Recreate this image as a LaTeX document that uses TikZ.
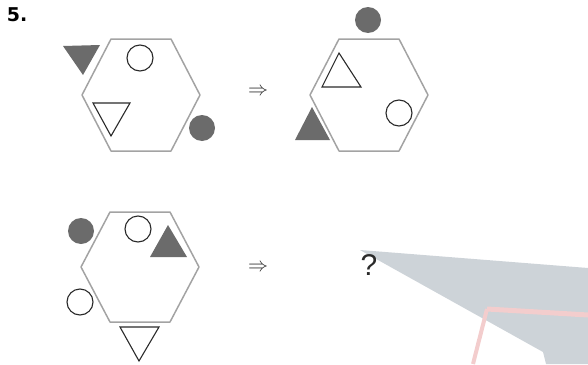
\documentclass[tikz,border=0pt]{standalone}
\usepackage{fontspec}
\setsansfont{Liberation Sans}
\newfontfamily\heavyfont{DejaVu Sans}
\definecolor{shade}{HTML}{6B6B6B}
\definecolor{hexgray}{HTML}{A3A3A3}
\definecolor{ink}{HTML}{2A2A2A}
\definecolor{wmgray}{HTML}{CDD3D8}
\definecolor{wmred}{HTML}{F3CDCD}
\tikzset{
	hexline/.style = {hexgray, line width = 1.5pt, line join = round},
	solid shape/.style = {fill = shade, draw = none},
	open shape/.style = {draw = ink, line width = 1.1pt, fill = white, line join = miter},
	implies/.style = {inner sep = 0pt, text = ink}
}
\begin{document}
\begin{tikzpicture}[x = 1pt, y = -1pt]
	\useasboundingbox (0,0) rectangle (588,364);
	% stain in the lower right corner
	\fill [wmgray] (360,250) -- (588,268) -- (588,364) -- (546,364) -- (543,352) -- cycle;
	\draw [wmred, line width = 5pt] (487,309) -- (588,315);
	\draw [wmred, line width = 4pt] (487,309) -- (473,364);
	\node (num) at (17,15) {\heavyfont\bfseries\fontsize{19}{19}\selectfont 5.};
	% first pair
	\draw [hexline, shift = {(141,95)}] (-59,0) -- (-30,-56) -- (30,-56) -- (59,0) -- (30,56) -- (-30,56) -- cycle;
	\draw [open shape] (140,58) circle (13);
	\fill [solid shape] (63,46) -- (100,45) -- (83,75) -- cycle;
	\draw [open shape] (93,103) -- (130,103) -- (111,136) -- cycle;
	\fill [solid shape] (202,128) circle (13);
	\node [implies] (arrA) at (258,92) {\scalebox{2}{$\Rightarrow$}};
	\draw [hexline, shift = {(369,95)}] (-59,0) -- (-30,-56) -- (30,-56) -- (59,0) -- (30,56) -- (-30,56) -- cycle;
	\fill [solid shape] (368,20) circle (13);
	\draw [open shape] (339,53) -- (361,87) -- (322,87) -- cycle;
	\draw [open shape] (399,113) circle (13);
	\fill [solid shape] (312,107) -- (330,140) -- (295,140) -- cycle;
	% second pair
	\draw [hexline, shift = {(140,267)}] (-59,0) -- (-30,-55) -- (30,-55) -- (59,0) -- (30,55) -- (-30,55) -- cycle;
	\fill [solid shape] (81,231) circle (13);
	\draw [open shape] (138,229) circle (13);
	\fill [solid shape] (168,225) -- (187,257) -- (150,257) -- cycle;
	\draw [open shape] (80,302) circle (13);
	\draw [open shape] (120,327) -- (159,327) -- (139,361) -- cycle;
	\node [implies] (arrB) at (258,268) {\scalebox{2}{$\Rightarrow$}};
	\node [ink] (ask) at (369,265) {\sffamily\fontsize{30}{30}\selectfont ?};
\end{tikzpicture}
\end{document}
